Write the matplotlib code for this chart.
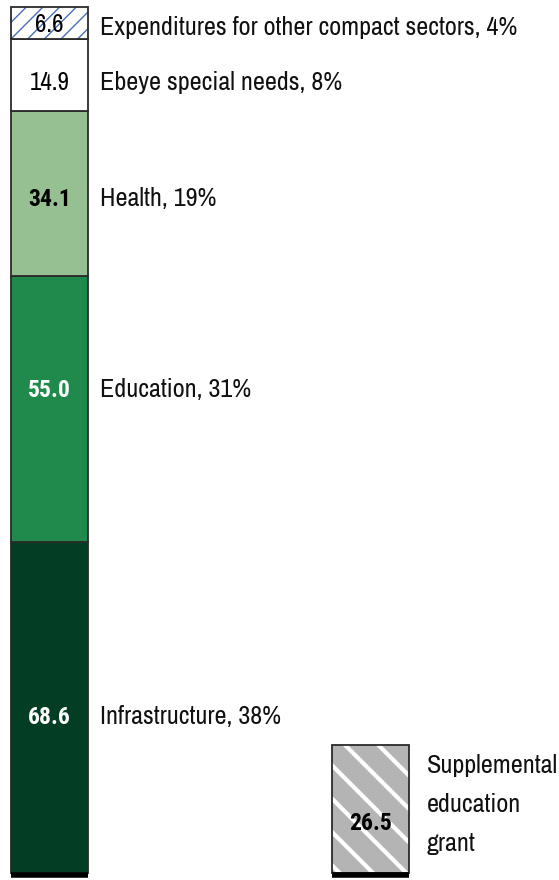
"""
Stacked bar of compact sector grant amounts, with the supplemental education
grant shown as a separate bar.
"""

import matplotlib.pyplot as plt
from matplotlib import rc_context

plt.rcParams["font.family"] = ["Archivo Narrow", "Roboto Condensed", "DejaVu Sans"]
BOLD_FAMILY = ["Roboto Condensed", "DejaVu Sans"]

# === Data ===
sectors = ["Infrastructure", "Education", "Health", "Ebeye special needs",
           "Expenditures for other compact sectors"]
amounts = [68.6, 55.0, 34.1, 14.9, 6.6]
shares = [38, 31, 19, 8, 4]
seg_colors = ["#023d24", "#1f8a4c", "#96bf92", "white", "white"]
value_colors = ["white", "white", "black", "black", "black"]
value_bold = [True, True, True, False, False]

seg_label = "Supplemental\neducation\ngrant"
seg_amount = 26.5

# baseline shift of each text row from its segment centre, in pixels (up = +)
text_nudge = [-17, 12, -12, -15, -12]

W, H, DPI = 559, 880, 100
fig = plt.figure(figsize=(W / DPI, H / DPI), dpi=DPI)
ax = fig.add_axes([0, 0, 1, 1])
ax.axis("off")

px_per_unit = 4.83
bar_w = 1.0
x_main, x_sup = 0.0, 4.17
x0 = -0.5 - 11 / 77
ax.set_xlim(x0, x0 + W / 77)
y0 = -7 / px_per_unit
ax.set_ylim(y0, y0 + H / px_per_unit)

edge = "#2a2a2a"

# main stacked bar
bottom = 0.0
for i, (name, val) in enumerate(zip(sectors, amounts)):
    if i == 4:
        with rc_context({"hatch.linewidth": 1.0}):
            ax.bar(x_main, val, bar_w, bottom=bottom, color="white",
                   hatch="//", edgecolor="#4a6fb5", linewidth=0)
        ax.bar(x_main, val, bar_w, bottom=bottom, fill=False,
               edgecolor=edge, linewidth=1.3)
    else:
        ax.bar(x_main, val, bar_w, bottom=bottom, color=seg_colors[i],
               edgecolor=edge, linewidth=1.3)
    mid = bottom + val / 2
    if value_bold[i]:
        vstyle = dict(family=BOLD_FAMILY, fontweight="bold", fontsize=17)
    else:
        vstyle = dict(fontsize=18)
    ax.annotate(f"{val:.1f}", (x_main, mid),
                xytext=(0, text_nudge[i] + (3 if i == 4 else 0)),
                textcoords="offset pixels", ha="center", va="baseline",
                color=value_colors[i], **vstyle)
    ax.annotate(f"{name}, {shares[i]}%", (x_main + 0.5, mid),
                xytext=(12, text_nudge[i]), textcoords="offset pixels",
                ha="left", va="baseline", fontsize=18.8, color="#111111")
    bottom += val

# supplemental education grant bar
with rc_context({"hatch.linewidth": 3.0}):
    ax.bar(x_sup, seg_amount, bar_w, color="#b4b4b4", hatch="\\",
           edgecolor="white", linewidth=0)
ax.bar(x_sup, seg_amount, bar_w, fill=False, edgecolor=edge, linewidth=1.3)
ax.annotate(f"{seg_amount:.1f}", (x_sup, seg_amount / 2), xytext=(0, -21),
            textcoords="offset pixels", ha="center", va="baseline",
            family=BOLD_FAMILY, fontsize=17, fontweight="bold", color="black")
ax.annotate(seg_label, (x_sup + 0.5, seg_amount), xytext=(18, -9),
            textcoords="offset pixels", ha="left", va="top",
            fontsize=18.8, linespacing=1.83, color="#111111")

# thick baseline under each bar
for x in (x_main, x_sup):
    ax.plot([x - bar_w / 2, x + bar_w / 2], [-0.4, -0.4], color="black",
            linewidth=4, solid_capstyle="butt")

fig.savefig("out.png", dpi=DPI)
